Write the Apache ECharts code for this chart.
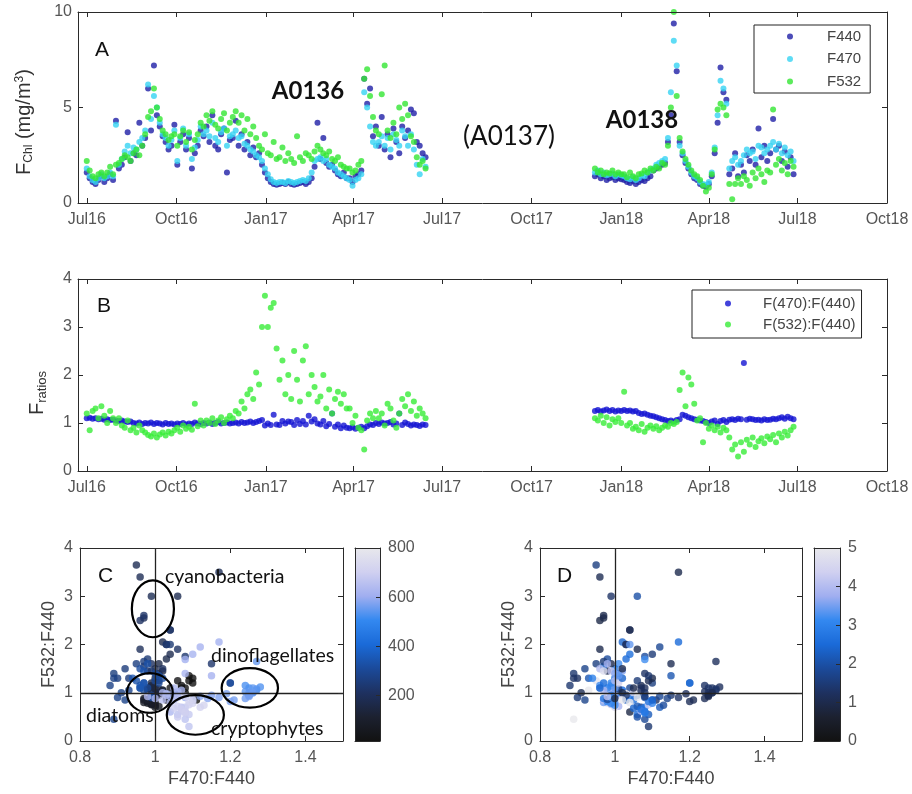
<!DOCTYPE html>
<html><head><meta charset="utf-8">
<script src="https://cdn.jsdelivr.net/npm/echarts@6/dist/echarts.min.js"></script>
<style>html,body{margin:0;padding:0;background:#fff}#c{width:912px;height:794px}</style>
</head><body><div id="c"></div>
<script>
// ---- time axis (days since 1 Jul 2016) ----
const tickDays   = [0, 92, 184, 274, 365, 457, 549, 639, 730, 822];
const tickLabels = ['Jul16','Oct16','Jan17','Apr17','Jul17','Oct17','Jan18','Apr18','Jul18','Oct18'];
const xRange = [-9, 822];
const stepDays = 3;          // sampling interval of the series below
const start136 = 0;          // first A0136 sample (day)
const start138 = 522;        // first A0138 sample (day)

// ---- Panel A: F_Chl (mg/m3), deployment A0136 ----
const f440_136 = [1.6,1.3,1.1,1.0,1.2,1.4,1.1,1.3,1.5,1.2, 4.3,1.8,2.0,2.4,3.7,2.2,2.6,2.5,4.2,3.0,
  3.4,6.0,3.8,7.2,4.6,4.0,3.5,3.2,2.8,3.0, 4.1,2.0,3.2,3.6,2.8,3.4,1.8,2.6,3.0,3.8,
  3.5,4.0,3.2,4.6,3.0,2.8,3.6,3.9,1.6,3.3, 3.4,4.3,3.0,3.6,2.8,3.2,2.5,2.9,2.4,2.6,
  2.0,1.6,1.3,1.1,1.0,0.95,1.0,1.05,1.0,1.1, 1.0,0.95,1.0,1.05,1.1,1.0,1.1,1.3,1.9,4.2,
  2.3,3.4,2.1,1.9,2.0,1.7,1.5,1.4,1.6,1.3, 1.3,1.1,1.4,1.5,1.7,6.5,5.2,6.0,3.5,4.0,
  3.0,4.5,2.8,3.6,2.4,3.9,3.2,2.6,4.0,3.4, 3.8,4.9,4.7,3.2,3.0,2.6,2.4];
const f470_136 = [1.8,1.4,1.2,1.1,1.3,1.5,1.3,1.4,1.6,1.4, 4.1,2.0,2.3,2.7,3.0,2.6,2.9,2.8,3.2,3.4,
  3.8,6.2,4.4,5.6,5.0,4.2,3.6,3.4,3.0,3.3, 3.8,2.2,3.4,3.9,3.0,3.6,2.3,2.9,3.3,4.0,
  3.6,3.8,3.5,4.2,3.4,3.2,3.7,3.9,3.0,3.5, 3.6,3.8,3.4,3.5,3.1,3.0,2.8,2.7,2.5,2.4,
  2.2,1.8,1.5,1.25,1.1,1.05,1.1,1.1,1.05,1.15, 1.1,1.05,1.1,1.15,1.2,1.15,1.3,1.6,2.2,2.3,
  2.4,2.2,2.3,2.0,1.9,1.8,1.6,1.5,1.4,1.3, 1.2,0.9,1.2,1.3,1.5,5.8,5.0,4.0,3.2,3.0,
  3.2,3.5,3.0,3.4,2.8,3.6,3.3,3.0,3.8,3.5, 3.0,3.6,2.8,2.0,1.5,2.3,1.9];
const f532_136 = [2.2,1.7,1.4,1.3,1.5,1.6,1.4,1.6,1.9,1.5, 2.0,2.1,2.3,2.5,2.4,2.2,2.6,2.8,2.5,3.0,
  3.6,4.5,4.8,6.0,5.0,4.4,3.8,3.6,3.3,3.5, 3.6,3.0,3.5,3.8,3.2,3.7,2.8,3.3,3.6,4.2,
  4.0,4.6,4.3,4.8,4.1,3.9,4.4,4.7,3.8,4.2, 4.5,4.8,4.2,4.6,3.8,4.4,3.6,4.0,3.4,3.0,
  2.8,3.6,2.6,2.5,3.2,2.3,2.4,2.9,2.2,2.6, 2.3,2.1,3.5,2.4,2.2,2.6,2.5,2.3,2.7,3.0,
  2.8,2.6,2.5,2.7,2.3,2.2,2.4,2.0,1.9,1.8, 1.8,1.6,1.7,2.0,2.2,6.5,7.0,5.6,4.5,3.8,
  3.6,5.7,7.2,3.8,3.4,4.2,3.6,5.0,4.4,5.2, 4.6,3.5,3.2,2.4,2.0,2.2,1.8];
// ---- Panel A: deployment A0138 ----
const f440_138 = [1.4,1.5,1.3,1.4,1.2,1.3,1.35,1.2,1.3,1.25, 1.2,1.1,1.05,1.15,1.0,1.1,1.2,1.15,1.3,1.4,
  1.7,1.8,1.9,2.0,2.1,3.2,4.6,9.4,6.9,3.2, 2.5,2.1,1.8,1.5,1.3,1.2,1.0,0.9,0.85,1.0,
  1.4,2.6,4.2,7.1,5.8,5.4,1.5,1.8,2.6,1.4, 2.0,1.6,2.5,2.2,2.8,2.0,3.9,2.4,3.0,2.2,
  2.6,4.4,2.8,3.0,2.2,2.7,1.9,2.4,1.5];
const f470_138 = [1.6,1.7,1.5,1.6,1.45,1.5,1.55,1.4,1.5,1.45, 1.4,1.3,1.25,1.35,1.2,1.3,1.45,1.4,1.6,1.7,
  1.8,2.0,2.1,2.2,2.3,3.4,5.8,8.5,7.2,3.0, 2.6,2.2,1.9,1.6,1.4,1.3,1.1,1.0,0.95,1.1,
  1.6,2.9,4.6,6.4,6.0,5.2,1.8,2.2,2.4,2.0, 2.2,2.5,2.8,2.6,2.7,2.3,3.0,2.9,2.6,2.8,
  3.0,3.2,2.8,3.1,2.6,2.9,2.5,2.7,2.2];
const f532_138 = [1.8,1.6,1.7,1.5,1.6,1.55,1.7,1.5,1.6,1.5, 1.5,1.35,1.6,1.4,1.3,1.5,1.55,1.7,1.6,1.8,
  1.7,1.9,1.8,2.1,2.0,3.0,5.0,10.0,5.6,3.4, 2.7,2.3,2.0,1.7,1.5,1.4,1.2,0.9,0.6,0.8,
  1.5,2.8,4.9,5.2,5.0,4.6,1.0,0.2,1.0,1.3, 1.0,1.4,1.2,0.9,1.6,1.3,1.8,1.5,1.1,1.7,
  1.6,4.9,2.0,2.3,1.7,2.1,1.5,2.2,1.9];

// ---- Panel B: ratios ----
const r470_136 = [1.10,1.11,1.09,1.10,1.08,1.09,1.07,1.08,1.06,1.07, 1.05,1.04,1.05,1.03,1.02,1.03,1.00,0.99,1.01,0.98,
  1.00,0.99,1.01,0.98,1.00,0.99,0.97,1.00,0.98,0.99, 0.97,0.99,0.98,1.00,0.97,0.99,0.98,1.01,0.99,0.98,
  1.00,0.99,1.01,0.98,1.00,1.02,0.99,1.00,1.01,0.99, 1.00,1.01,0.99,1.02,1.00,1.01,1.03,1.00,1.02,1.04,
  1.06,0.95,0.99,0.96,1.17,0.97,0.96,1.04,0.99,1.03, 1.02,0.96,1.06,0.98,1.04,0.97,1.15,1.03,1.08,0.99,
  0.97,1.04,0.93,0.98,1.20,0.92,0.97,0.89,0.95,0.90, 0.89,0.91,0.88,0.90,0.92,0.89,0.93,0.97,0.96,1.00,
  0.98,1.01,0.99,1.00,1.02,0.97,0.99,1.20,0.96,1.01, 0.98,0.95,0.97,0.96,0.94,0.97,0.96];
const r532_136 = [1.2,0.85,1.25,1.3,1.1,1.35,1.15,1.0,1.25,1.1, 1.0,1.1,0.95,0.9,1.05,0.85,0.9,0.8,0.95,0.85,
  0.8,0.75,0.72,0.78,0.7,0.76,0.8,0.74,0.82,0.78, 0.85,0.9,0.82,0.95,0.88,0.92,0.86,1.4,0.93,1.05,
  0.95,1.05,1.0,1.1,0.98,1.05,1.12,1.0,1.08,1.15, 1.1,1.25,1.2,1.45,1.3,1.6,1.7,1.5,2.05,1.8,
  3.0,3.65,3.0,3.4,3.5,2.55,1.9,2.3,1.6,2.0, 1.5,2.5,1.9,1.45,2.3,2.6,1.6,2.0,1.75,1.45,
  1.55,2.0,1.3,1.7,1.2,1.5,1.65,1.4,1.6,1.3, 1.3,1.0,1.15,0.9,0.85,0.45,1.05,1.2,1.1,1.25,
  1.1,1.2,0.95,1.4,1.3,1.05,0.9,1.2,1.5,1.35, 1.6,1.25,1.45,1.15,1.3,1.2,1.1];
const r470_138 = [1.25,1.27,1.24,1.26,1.28,1.25,1.27,1.24,1.26,1.25, 1.27,1.25,1.26,1.24,1.25,1.21,1.19,1.20,1.17,1.15,
  1.14,1.12,1.10,1.08,1.06,1.04,1.05,1.03,1.06,1.08, 1.17,1.15,1.12,1.10,1.08,1.07,1.05,1.04,1.02,1.00,
  1.03,1.05,0.98,1.04,1.06,1.02,1.07,1.08,1.06,1.09, 1.08,2.25,1.07,1.09,1.08,1.06,1.07,1.05,1.08,1.06,
  1.07,1.09,1.08,1.10,1.12,1.09,1.13,1.10,1.08];
const r532_138 = [1.10,1.05,1.15,1.00,1.12,0.95,1.08,1.02,1.10,1.00, 1.65,0.95,1.00,0.88,0.92,0.85,0.98,0.82,0.90,0.95,
  0.88,0.93,0.85,0.90,0.95,0.92,1.00,0.98,1.02,1.69, 2.05,1.35,1.95,1.80,1.40,1.05,1.10,0.60,1.00,0.88,
  0.95,0.85,0.92,0.80,0.90,0.85,0.70,0.45,0.55,0.30, 0.60,0.40,0.65,0.55,0.70,0.50,0.62,0.68,0.58,0.72,
  0.66,0.75,0.60,0.78,0.70,0.82,0.74,0.85,0.92];

// ---- Panels C / D ----
const refLineX = 1, refLineY = 1;
const groupNames = ['cyanobacteria', 'diatoms', 'cryptophytes', 'dinoflagellates'];
const groupEllipses = [[0.994, 2.74, 0.056, 0.59], [0.986, 0.995, 0.061, 0.41],
                       [1.107, 0.54, 0.076, 0.41], [1.252, 1.10, 0.075, 0.41]];
const ratioTicksX = [0.8, 1, 1.2, 1.4];
const cbRangeC = [15, 800], cbTicksC = [200, 400, 600, 800];
const cbRangeD = [0, 5];
const cmap = ['#121212','#1c2130','#1e3160','#1b4a9a','#1a6ad8','#3388f0','#a0aef0','#d0d0f0','#e8e8ec'];

// ---------------------------------------------------------------
const FONT = 'Arial, "Liberation Sans", Helvetica, sans-serif';
const NOTE = 'Lato, "Open Sans", sans-serif';
const AX = '#2a2a2a', TXT = '#555';
const C440 = '#1f1fa6', C470 = '#36d3f2', C532 = '#33e633', CR470 = '#1414d2', CR532 = '#38ec38';

const days136 = f440_136.map((_, i) => start136 + i * stepDays);
const days138 = f440_138.map((_, i) => start138 + i * stepDays);
const days = days136.concat(days138);
const f440 = f440_136.concat(f440_138), f470 = f470_136.concat(f470_138), f532 = f532_136.concat(f532_138);
const r470 = r470_136.concat(r470_138), r532 = r532_136.concat(r532_138);
const zip = (xs, ys) => xs.map((x, i) => [x, ys[i]]);
const dataC = r470.map((x, i) => [x, r532[i], days[i]]);
const dataD = r470.map((x, i) => [x, r532[i], f440[i]]);

function mkAxis(o) {
  const ax = {
    type: 'value', gridIndex: o.grid, position: o.pos, min: o.min, max: o.max, z: 10,
    axisLine: {show: true, onZero: false, lineStyle: {color: AX, width: 1}},
    axisTick: {show: o.ticks !== false, inside: true, length: o.tickLen || 5, lineStyle: {color: AX}},
    axisLabel: {show: !!o.labels, color: TXT, fontSize: 16, fontFamily: FONT, margin: o.margin || 8},
    splitLine: {show: false},
    name: o.name || '', nameLocation: 'middle', nameGap: o.nameGap || 0,
    nameTextStyle: {color: '#444', fontSize: 18, fontFamily: FONT}
  };
  if (o.interval != null) ax.interval = o.interval;
  if (o.custom) { ax.axisTick.customValues = o.custom; ax.axisLabel.customValues = o.custom; }
  if (o.formatter) ax.axisLabel.formatter = o.formatter;
  return ax;
}
const timeFmt = v => { const k = tickDays.indexOf(v); return k >= 0 ? tickLabels[k] : ''; };

const xAxis = [
  mkAxis({grid:0, pos:'bottom', min:xRange[0], max:xRange[1], labels:true, custom:tickDays, formatter:timeFmt, margin:9}),
  mkAxis({grid:0, pos:'top', min:xRange[0], max:xRange[1], custom:tickDays}),
  mkAxis({grid:1, pos:'bottom', min:xRange[0], max:xRange[1], labels:true, custom:tickDays, formatter:timeFmt, margin:9}),
  mkAxis({grid:1, pos:'top', min:xRange[0], max:xRange[1], custom:tickDays}),
  mkAxis({grid:2, pos:'bottom', min:0.8, max:1.5, labels:true, custom:ratioTicksX, margin:9, name:'F470:F440', nameGap:29}),
  mkAxis({grid:2, pos:'top', min:0.8, max:1.5, custom:ratioTicksX}),
  mkAxis({grid:3, pos:'bottom', min:0, max:1, ticks:false}),
  mkAxis({grid:3, pos:'top', min:0, max:1, ticks:false}),
  mkAxis({grid:4, pos:'bottom', min:0.8, max:1.5, labels:true, custom:ratioTicksX, margin:9, name:'F470:F440', nameGap:29}),
  mkAxis({grid:4, pos:'top', min:0.8, max:1.5, custom:ratioTicksX}),
  mkAxis({grid:5, pos:'bottom', min:0, max:1, ticks:false}),
  mkAxis({grid:5, pos:'top', min:0, max:1, ticks:false})
];
const yAxis = [
  mkAxis({grid:0, pos:'left', min:0, max:10, interval:5, labels:true, margin:6}),
  mkAxis({grid:0, pos:'right', min:0, max:10, interval:5}),
  mkAxis({grid:1, pos:'left', min:0, max:4, interval:1, labels:true, margin:6}),
  mkAxis({grid:1, pos:'right', min:0, max:4, interval:1}),
  mkAxis({grid:2, pos:'left', min:0, max:4, interval:1, labels:true, margin:7, name:'F532:F440', nameGap:22}),
  mkAxis({grid:2, pos:'right', min:0, max:4, interval:1}),
  mkAxis({grid:3, pos:'right', min:cbRangeC[0], max:cbRangeC[1], labels:true, custom:cbTicksC, margin:8, tickLen:4}),
  mkAxis({grid:3, pos:'left', min:cbRangeC[0], max:cbRangeC[1], ticks:false}),
  mkAxis({grid:4, pos:'left', min:0, max:4, interval:1, labels:true, margin:7, name:'F532:F440', nameGap:22}),
  mkAxis({grid:4, pos:'right', min:0, max:4, interval:1}),
  mkAxis({grid:5, pos:'right', min:cbRangeD[0], max:cbRangeD[1], interval:1, labels:true, margin:8, tickLen:4}),
  mkAxis({grid:5, pos:'left', min:cbRangeD[0], max:cbRangeD[1], ticks:false})
];

const gradient = () => new echarts.graphic.LinearGradient(0, 1, 0, 0,
  cmap.map((c, i) => ({offset: i / (cmap.length - 1), color: c})));
const colorbar = (xi, range) => ({
  type: 'custom', xAxisIndex: xi, yAxisIndex: xi, z: 1, silent: true,
  data: [[0, 1, range[0], range[1]]],
  renderItem: (p, api) => {
    const a = api.coord([api.value(0), api.value(2)]);
    const b = api.coord([api.value(1), api.value(3)]);
    return {type: 'rect', shape: {x: a[0], y: b[1], width: b[0] - a[0], height: a[1] - b[1]},
            style: {fill: gradient()}};
  }
});
const refLines = {
  silent: true, symbol: ['none', 'none'], label: {show: false}, animation: false,
  lineStyle: {color: '#222', type: 'solid', width: 1.3},
  data: [{xAxis: refLineX}, {yAxis: refLineY}]
};
const sc = (name, xi, data, color, size) => ({
  name, type: 'scatter', xAxisIndex: xi, yAxisIndex: xi, data, symbol: 'circle',
  symbolSize: size, itemStyle: {color}, animation: false, silent: true
});

const series = [
  sc('F440', 0, zip(days, f440), C440, 6),
  sc('F470', 0, zip(days, f470), C470, 6),
  sc('F532', 0, zip(days, f532), C532, 6),
  sc('F(470):F(440)', 2, zip(days, r470), CR470, 6),
  sc('F(532):F(440)', 2, zip(days, r532), CR532, 6),
  Object.assign(sc('C', 4, dataC, '#1a4aa0', 7.5), {markLine: refLines}),
  {
    type: 'custom', xAxisIndex: 4, yAxisIndex: 4, z: 5, silent: true,
    data: groupEllipses,
    renderItem: (p, api) => {
      const c = api.coord([api.value(0), api.value(1)]);
      const s = api.size([api.value(2), api.value(3)]);
      return {type: 'ellipse', shape: {cx: c[0], cy: c[1], rx: s[0], ry: s[1]},
              style: {fill: 'none', stroke: '#000', lineWidth: 2.2}};
    }
  },
  colorbar(6, cbRangeC),
  Object.assign(sc('D', 8, dataD, '#1a4aa0', 7.5), {markLine: refLines}),
  colorbar(10, cbRangeD)
];

const txt = (text, x, y, font, align, extra) => Object.assign({
  type: 'text', x, y, silent: true, z: 50,
  style: {text, font, fill: '#111', align: align || 'left', textAlign: align || 'left',
          verticalAlign: 'middle', textVerticalAlign: 'middle'}
}, extra || {});
const annC = [[165, 577], [86, 716], [211, 729], [211, 656]];

const graphic = [
  {type: 'text', x: 24, y: 122, rotation: Math.PI / 2, silent: true,
   style: {text: '{a|F}{b|Chl}{a| (mg/m}{c|3}{a|)}', align: 'center', verticalAlign: 'middle',
     textAlign: 'center', textVerticalAlign: 'middle', fill: '#333',
     rich: {a: {fontSize: 20, fontFamily: FONT, fill: '#333', color: '#333'},
            b: {fontSize: 12, fontFamily: FONT, fill: '#333', color: '#333', padding: [9, 0, 0, 0]},
            c: {fontSize: 12, fontFamily: FONT, fill: '#333', color: '#333', padding: [0, 0, 9, 0]}}}},
  {type: 'text', x: 37, y: 393, rotation: Math.PI / 2, silent: true,
   style: {text: '{a|F}{b|ratios}', align: 'center', verticalAlign: 'middle',
     textAlign: 'center', textVerticalAlign: 'middle', fill: '#333',
     rich: {a: {fontSize: 20, fontFamily: FONT, fill: '#333', color: '#333'},
            b: {fontSize: 13, fontFamily: FONT, fill: '#333', color: '#333', padding: [10, 0, 0, 0]}}}},
  txt('A', 95, 50, '21px ' + FONT),
  txt('B', 97, 306, '21px ' + FONT),
  txt('C', 98, 576, '21px ' + FONT),
  txt('D', 557, 576, '21px ' + FONT),
  txt('A0136', 308, 91, 'bold 24px ' + NOTE, 'center'),
  txt('(A0137)', 509, 137, '26px ' + NOTE, 'center'),
  txt('A0138', 642, 120, 'bold 24px ' + NOTE, 'center')
].concat(groupNames.map((n, i) => txt(n, annC[i][0], annC[i][1], '19.5px ' + NOTE)));

const legendBase = {
  orient: 'vertical', itemWidth: 6, itemHeight: 6, icon: 'circle', selectedMode: false,
  borderColor: '#222', borderWidth: 1, backgroundColor: '#fff', borderRadius: 0, z: 20
};
const option = {
  animation: false,
  backgroundColor: '#fff',
  grid: [
    {left: 78, top: 12, width: 809, height: 191},
    {left: 78, top: 279, width: 809, height: 192},
    {left: 80, top: 548, width: 263, height: 193},
    {left: 355, top: 548, width: 25, height: 193},
    {left: 540, top: 548, width: 262, height: 193},
    {left: 814, top: 548, width: 26, height: 193}
  ],
  xAxis, yAxis, series, graphic,
  legend: [
    Object.assign({}, legendBase, {data: ['F440', 'F470', 'F532'], left: 754, top: 25,
      itemGap: 7.5, padding: [4, 9, 4, 33],
      textStyle: {fontSize: 15, color: '#444', fontFamily: FONT, padding: [0, 0, 0, 29]}}),
    Object.assign({}, legendBase, {data: ['F(470):F(440)', 'F(532):F(440)'], left: 692, top: 290,
      itemGap: 6, padding: [6, 6, 6, 33],
      textStyle: {fontSize: 15, color: '#444', fontFamily: FONT, padding: [0, 0, 0, 27]}})
  ],
  visualMap: [
    {type: 'continuous', show: false, seriesIndex: 5, dimension: 2, min: cbRangeC[0], max: cbRangeC[1],
     inRange: {color: cmap}},
    {type: 'continuous', show: false, seriesIndex: 8, dimension: 2, min: cbRangeD[0], max: cbRangeD[1],
     inRange: {color: cmap}}
  ]
};
const chart = echarts.init(document.getElementById('c'));
chart.setOption(option);
</script></body></html>
